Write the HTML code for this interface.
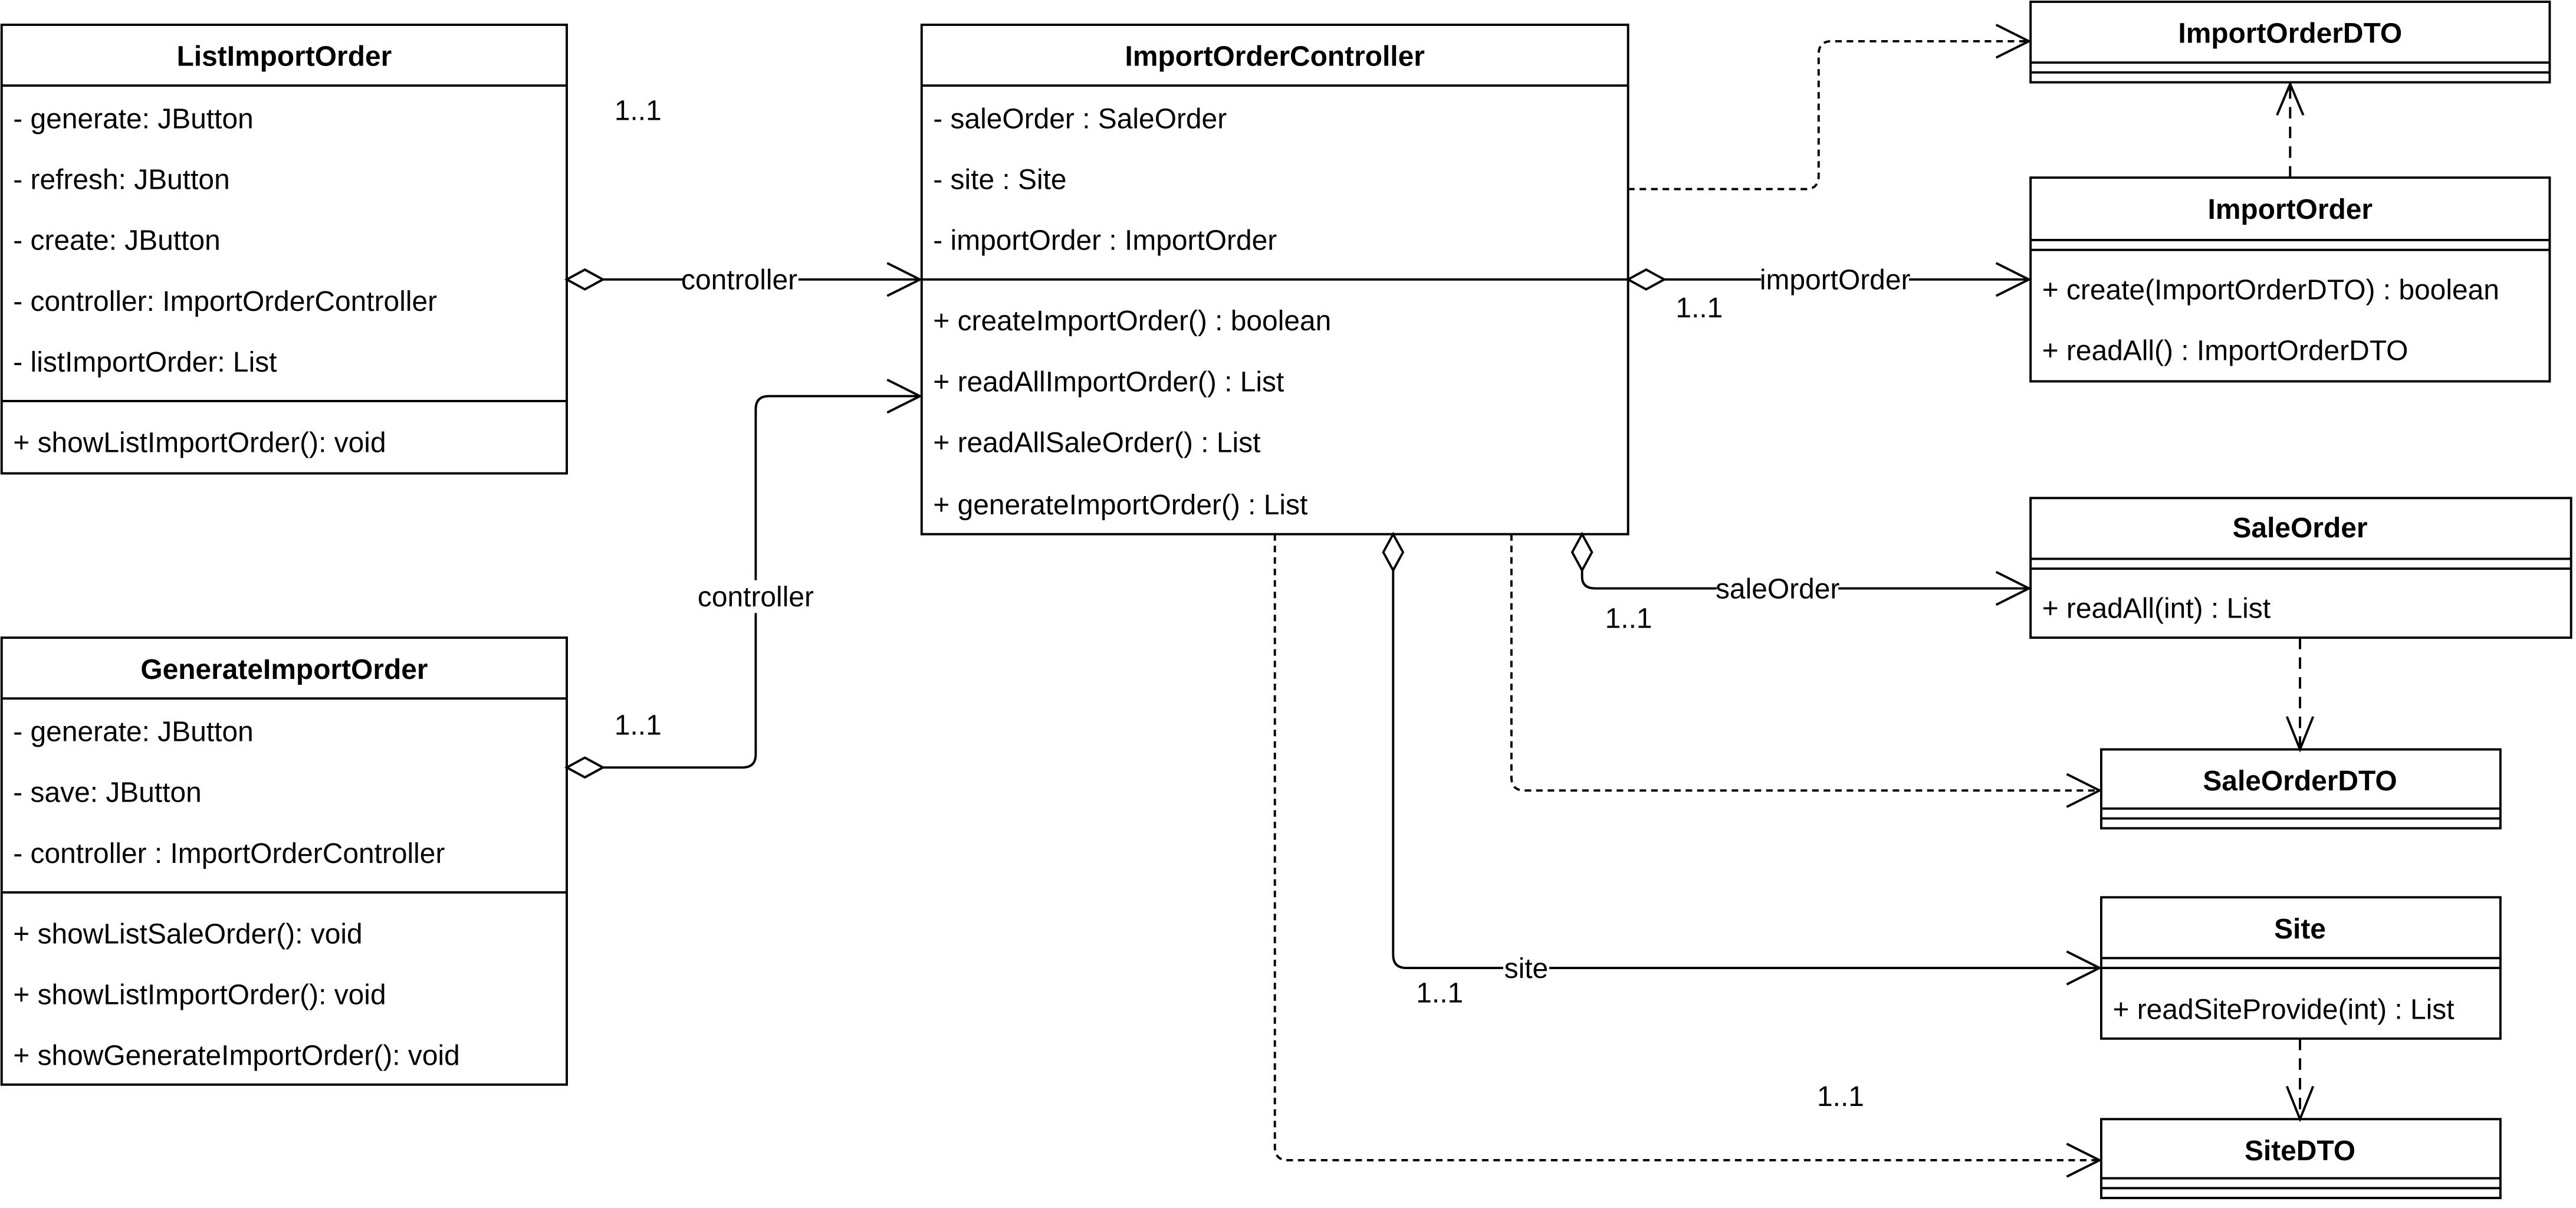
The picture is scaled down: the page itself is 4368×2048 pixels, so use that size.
<!DOCTYPE html>
<html><head><meta charset="utf-8"><style>
html,body{margin:0;padding:0;background:#fff;}
svg{display:block}
text{font-family:"Liberation Sans",Arial,sans-serif;font-size:17.2px;fill:#000}
.b{font-weight:bold}
.m{text-anchor:middle}
</style></head><body>
<svg width="4368" height="2048" viewBox="0 0 1568 735" xmlns="http://www.w3.org/2000/svg">
<g fill="none" stroke="#000" stroke-width="1.4">
<rect x="1" y="15" width="344" height="273" fill="#fff"/>
<line x1="1" y1="52" x2="345" y2="52"/><line x1="1" y1="244" x2="345" y2="244"/>
<rect x="561" y="15" width="430" height="310" fill="#fff"/>
<line x1="561" y1="52" x2="991" y2="52"/><line x1="561" y1="170" x2="991" y2="170"/>
<rect x="1" y="388" width="344" height="272" fill="#fff"/>
<line x1="1" y1="425" x2="345" y2="425"/><line x1="1" y1="543" x2="345" y2="543"/>
<rect x="1236" y="1" width="316" height="49"/>
<line x1="1236" y1="38" x2="1552" y2="38"/><line x1="1236" y1="44" x2="1552" y2="44"/>
<rect x="1236" y="108" width="316" height="124"/>
<line x1="1236" y1="146" x2="1552" y2="146"/><line x1="1236" y1="152" x2="1552" y2="152"/>
<rect x="1236" y="303" width="329" height="85"/>
<line x1="1236" y1="340" x2="1565" y2="340"/><line x1="1236" y1="346" x2="1565" y2="346"/>
<rect x="1279" y="456" width="243" height="48"/>
<line x1="1279" y1="492" x2="1522" y2="492"/><line x1="1279" y1="498" x2="1522" y2="498"/>
<rect x="1279" y="546" width="243" height="86"/>
<line x1="1279" y1="583" x2="1522" y2="583"/><line x1="1279" y1="589" x2="1522" y2="589"/>
<rect x="1279" y="681" width="243" height="48"/>
<line x1="1279" y1="717" x2="1522" y2="717"/><line x1="1279" y1="723" x2="1522" y2="723"/>

<path d="M367 170 H559"/><path d="M345 170 L356 164 L367 170 L356 176 Z" fill="#fff"/>
<path d="M540 160 L560 170 L540 180"/>
<path d="M367 467 H452 Q460 467 460 459 V249 Q460 241 468 241 H559"/><path d="M345 467 L356 461 L367 467 L356 473 Z" fill="#fff"/>
<path d="M540 231 L560 241 L540 251"/>
<path d="M1013 170 H1234"/><path d="M991 170 L1002 164 L1013 170 L1002 176 Z" fill="#fff"/>
<path d="M1215 160 L1235 170 L1215 180"/>
<path d="M963 347 V351 Q963 358 971 358 H1234"/><path d="M963 325 L969 336 L963 347 L957 336 Z" fill="#fff"/>
<path d="M1215 348 L1235 358 L1215 368"/>
<path d="M848 347 V581 Q848 589 856 589 H1277"/><path d="M848 325 L854 336 L848 347 L842 336 Z" fill="#fff"/>
<path d="M1258 579 L1278 589 L1258 599"/>
<g stroke-dasharray="4 3">
<path d="M991 115 H1099 Q1107 115 1107 107 V33 Q1107 25 1115 25 H1234"/>
<path d="M920 325 V473 Q920 481 928 481 H1277"/>
<path d="M776 325 V698 Q776 706 784 706 H1277"/>
</g>
<path d="M1215 15 L1235 25 L1215 35"/>
<path d="M1258 471 L1278 481 L1258 491"/>
<path d="M1258 696 L1278 706 L1258 716"/>
<g stroke-dasharray="7 5">
<path d="M1394 108 V52"/><path d="M1400 388 V454"/><path d="M1400 632 V679"/>
</g>
<path d="M1386 70 L1394 51 L1402 70"/>
<path d="M1392 436 L1400 456 L1408 436"/>
<path d="M1392 661 L1400 681 L1408 661"/>
</g>
<g fill="#fff">
<rect x="416" y="160" width="70" height="20"/>
<rect x="424" y="353" width="72" height="20"/>
<rect x="1072" y="160" width="90" height="20"/>
<rect x="1045" y="348" width="74" height="20"/>
<rect x="915" y="579" width="28" height="20"/>
</g>
<text class="b m" x="173" y="40">ListImportOrder</text>
<text class="b m" x="776" y="40">ImportOrderController</text>
<text class="b m" x="173" y="413">GenerateImportOrder</text>
<text class="b m" x="1394" y="26">ImportOrderDTO</text>
<text class="b m" x="1394" y="133">ImportOrder</text>
<text class="b m" x="1400" y="327">SaleOrder</text>
<text class="b m" x="1400" y="481">SaleOrderDTO</text>
<text class="b m" x="1400" y="571">Site</text>
<text class="b m" x="1400" y="706">SiteDTO</text>
<text x="8" y="78">- generate: JButton</text>
<text x="8" y="115">- refresh: JButton</text>
<text x="8" y="152">- create: JButton</text>
<text x="8" y="189">- controller: ImportOrderController</text>
<text x="8" y="226">- listImportOrder: List</text>
<text x="8" y="275">+ showListImportOrder(): void</text>
<text x="568" y="78">- saleOrder : SaleOrder</text>
<text x="568" y="115">- site : Site</text>
<text x="568" y="152">- importOrder : ImportOrder</text>
<text x="568" y="201">+ createImportOrder() : boolean</text>
<text x="568" y="238">+ readAllImportOrder() : List</text>
<text x="568" y="275">+ readAllSaleOrder() : List</text>
<text x="568" y="313">+ generateImportOrder() : List</text>
<text x="8" y="451">- generate: JButton</text>
<text x="8" y="488">- save: JButton</text>
<text x="8" y="525">- controller : ImportOrderController</text>
<text x="8" y="574">+ showListSaleOrder(): void</text>
<text x="8" y="611">+ showListImportOrder(): void</text>
<text x="8" y="648">+ showGenerateImportOrder(): void</text>
<text x="1243" y="182">+ create(ImportOrderDTO) : boolean</text>
<text x="1243" y="219">+ readAll() : ImportOrderDTO</text>
<text x="1243" y="376">+ readAll(int) : List</text>
<text x="1286" y="620">+ readSiteProvide(int) : List</text>
<text class="m" x="450" y="176">controller</text>
<text class="m" x="460" y="369">controller</text>
<text class="m" x="1117" y="176">importOrder</text>
<text class="m" x="1082" y="364">saleOrder</text>
<text class="m" x="929" y="595">site</text>
<text x="374" y="73">1..1</text>
<text x="374" y="447">1..1</text>
<text x="1020" y="193">1..1</text>
<text x="977" y="382">1..1</text>
<text x="862" y="610">1..1</text>
<text x="1106" y="673">1..1</text>
</svg>
</body></html>
